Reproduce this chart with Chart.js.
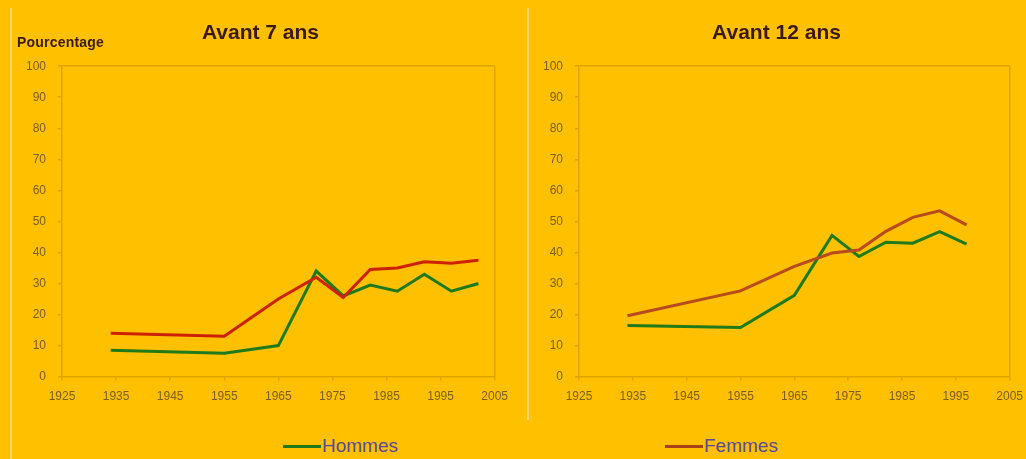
<!DOCTYPE html>
<html>
<head>
<meta charset="utf-8">
<script src="https://cdn.jsdelivr.net/npm/chart.js"></script>
<style>
  html, body { margin: 0; padding: 0; }
  body { width: 1026px; height: 459px; background: #ffc000; position: relative; overflow: hidden; }
  .rule { position: absolute; top: 8px; width: 2px; background: #ffd96a; }
  .box { position: absolute; top: 0; height: 413px; }
  .ylab { position: absolute; left: 17px; top: 34px; font: bold 14px "Liberation Sans", sans-serif; letter-spacing: 0.2px; color: #3b1a12; }
  .leg { position: absolute; top: 435px; font: 19px "Liberation Sans", sans-serif; color: #5b4a9a; white-space: nowrap; }
  .leg span { display: inline-block; width: 38px; height: 3px; vertical-align: middle; margin-right: 1px; }
</style>
</head>
<body>
<div class="rule" style="left:10px; height:451px;"></div>
<div class="rule" style="left:527px; height:412px;"></div>
<div class="box" style="left:14px; width:503px;"><canvas id="left"></canvas></div>
<div class="box" style="left:531px; width:501px;"><canvas id="right"></canvas></div>
<div class="ylab">Pourcentage</div>
<div class="leg" style="left:283px;"><span style="background:#1f7a1a"></span>Hommes</div>
<div class="leg" style="left:665px;"><span style="background:#a8401a"></span>Femmes</div>
<script>
// birth cohorts (x) and percentages
const yearsLeft = [1934, 1955, 1965, 1972, 1977, 1982, 1987, 1992, 1997, 2002];
const hommes7 = [8.5, 7.5, 10, 34, 26, 29.5, 27.5, 33, 27.5, 30];
const femmes7 = [14, 13, 25, 32, 25.5, 34.5, 35, 37, 36.5, 37.5];

const yearsRight = [1934, 1955, 1965, 1972, 1977, 1982, 1987, 1992, 1997];
const hommes12 = [16.5, 15.8, 26.2, 45.5, 38.7, 43.3, 43, 46.7, 42.7];
const femmes12 = [19.6, 27.6, 35.5, 39.8, 40.8, 46.8, 51.3, 53.4, 48.9];

const xMin = 1925, xMax = 2005;
const edge = "#e0a400";
const tickFont = { family: "Liberation Sans", size: 12 };
const tickColor = "#7d5e1c";

const pts = (xs, ys) => xs.map((x, i) => ({ x, y: ys[i] }));

function makeChart(id, title, xs, hommes, femmes, femColor) {
  const ctx = document.getElementById(id);
  return new Chart(ctx, {
    type: "line",
    data: {
      datasets: [
        { label: "Femmes", data: pts(xs, femmes), borderColor: femColor, borderWidth: 3, pointRadius: 0, tension: 0 },
        { label: "Hommes", data: pts(xs, hommes), borderColor: "#1f7a1a", borderWidth: 3, pointRadius: 0, tension: 0 },
      ],
    },
    options: {
      animation: false,
      responsive: true,
      maintainAspectRatio: false,
      layout: { padding: { left: 0, right: 10, top: 8, bottom: 0 } },
      plugins: {
        legend: { display: false },
        tooltip: { enabled: false },
        title: {
          display: true,
          text: title,
          color: "#3b1a12",
          font: { family: "Liberation Sans", size: 21, weight: "bold" },
          padding: { top: 13, bottom: 20 },
        },
      },
      scales: {
        x: {
          type: "linear",
          min: xMin,
          max: xMax,
          ticks: { stepSize: 10, color: tickColor, font: tickFont, maxRotation: 0, padding: 9, callback: (v) => String(v) },
          grid: {
            color: (c) => (c.tick && c.tick.value === xMax ? edge : "transparent"),
            tickColor: edge,
            tickLength: 4,
            lineWidth: 1.5,
          },
          border: { color: edge, width: 1.5 },
        },
        y: {
          min: 0,
          max: 100,
          ticks: { stepSize: 10, color: tickColor, font: tickFont, padding: 12 },
          grid: {
            color: (c) => (c.tick && c.tick.value === 100 ? edge : "transparent"),
            tickColor: edge,
            tickLength: 4,
            lineWidth: 1.5,
          },
          border: { color: edge, width: 1.5 },
        },
      },
    },
  });
}

makeChart("left", "Avant 7 ans", yearsLeft, hommes7, femmes7, "#cc2200");
makeChart("right", "Avant 12 ans", yearsRight, hommes12, femmes12, "#b84a1c");
</script>
</body>
</html>
